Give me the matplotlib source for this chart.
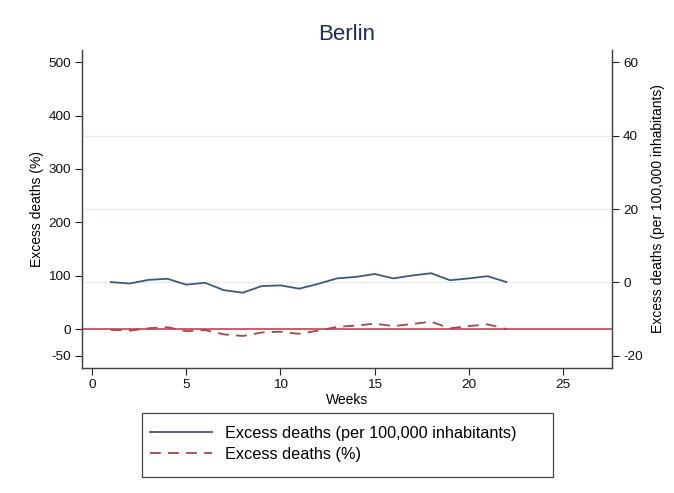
import matplotlib
matplotlib.use("Agg")
import matplotlib.pyplot as plt
from matplotlib.patches import Rectangle
from matplotlib.lines import Line2D

plt.rcParams['font.family'] = ['Liberation Sans', 'DejaVu Sans']

weeks = list(range(1, 23))
excess_per_100k = [0.1, -0.3, 0.7, 1.0, -0.6, -0.1, -2.1, -2.8, -1.0, -0.8, -1.7,
                   -0.4, 1.1, 1.5, 2.3, 1.1, 1.9, 2.5, 0.6, 1.1, 1.7, 0.1]
excess_pct = [-1.5, -3.0, 1.5, 3.5, -4.0, -2.0, -10.0, -13.0, -6.5, -5.0, -9.0,
              -3.0, 4.0, 6.5, 10.0, 5.6, 9.4, 13.8, 1.3, 5.6, 8.8, 0.0]

left_ticks = [-50, 0, 100, 200, 300, 400, 500]
right_ticks = [-20, 0, 20, 40, 60]
right_grid = [0, 20, 40]
x_ticks = [0, 5, 10, 15, 20, 25]

blue = '#3b5a82'
red_dash = '#a5464e'
red_ref = '#cc4f5a'
spine_col = '#444444'

fig = plt.figure(figsize=(6.74, 4.93), dpi=100)
ax = fig.add_axes([82/674, 1-368/493, (612-82)/674, (368-50)/493])
ax2 = ax.twinx()

ax.set_xlim(-0.53, 27.6)
ax.set_ylim(-73, 523)
ax2.set_ylim(-23.3, 63.3)

for y in right_grid:
    ax2.axhline(y, color='#e4eef0', lw=0.9, zorder=0)

ax.axhline(0, color=red_ref, lw=1.3, zorder=2)
l2, = ax.plot(weeks, excess_pct, color=red_dash, lw=1.3, zorder=3)
l2.set_dashes((6, 4))
l1, = ax2.plot(weeks, excess_per_100k, color=blue, lw=1.3, zorder=3)

ax.set_yticks(left_ticks)
ax.set_yticklabels([str(t) for t in left_ticks])
ax2.set_yticks(right_ticks)
ax2.set_yticklabels([str(t) for t in right_ticks])
ax.set_xticks(x_ticks)

for a in (ax, ax2):
    a.spines['top'].set_visible(False)
    for s in a.spines.values():
        s.set_color(spine_col)
        s.set_linewidth(0.9)
    a.tick_params(axis='both', colors='#222222', labelsize=9.7, length=5,
                  width=0.8, direction='out', pad=3)
    for lbl in a.get_xticklabels() + a.get_yticklabels():
        lbl.set_color('#111111')

ax.set_ylabel('Excess deaths (%)', fontsize=10, labelpad=3)
ax2.set_ylabel('Excess deaths (per 100,000 inhabitants)', fontsize=10, labelpad=6)
ax.set_xlabel('Weeks', fontsize=10, labelpad=1)

fig.text(347/674, 1-34/493, 'Berlin', ha='center', va='center', fontsize=16,
         color='#1f2b58')

# legend
h1 = Line2D([], [], color=blue, lw=1.3)
h2 = Line2D([], [], color=red_dash, lw=1.3, dashes=(6, 4))
fig.legend([h1, h2], ['Excess deaths (per 100,000 inhabitants)', 'Excess deaths (%)'],
           loc='center left', bbox_to_anchor=(150/674, 1-444/493),
           frameon=False, fontsize=11.7, handlelength=3.8, handletextpad=0.8,
           borderpad=0, borderaxespad=0, labelspacing=0.35)
fig.patches.append(Rectangle((142/674, 1-477/493), 411/674, 64/493,
                             transform=fig.transFigure, fill=False,
                             edgecolor='#444444', lw=0.9))

fig.savefig('out.png', dpi=100, facecolor='white')
